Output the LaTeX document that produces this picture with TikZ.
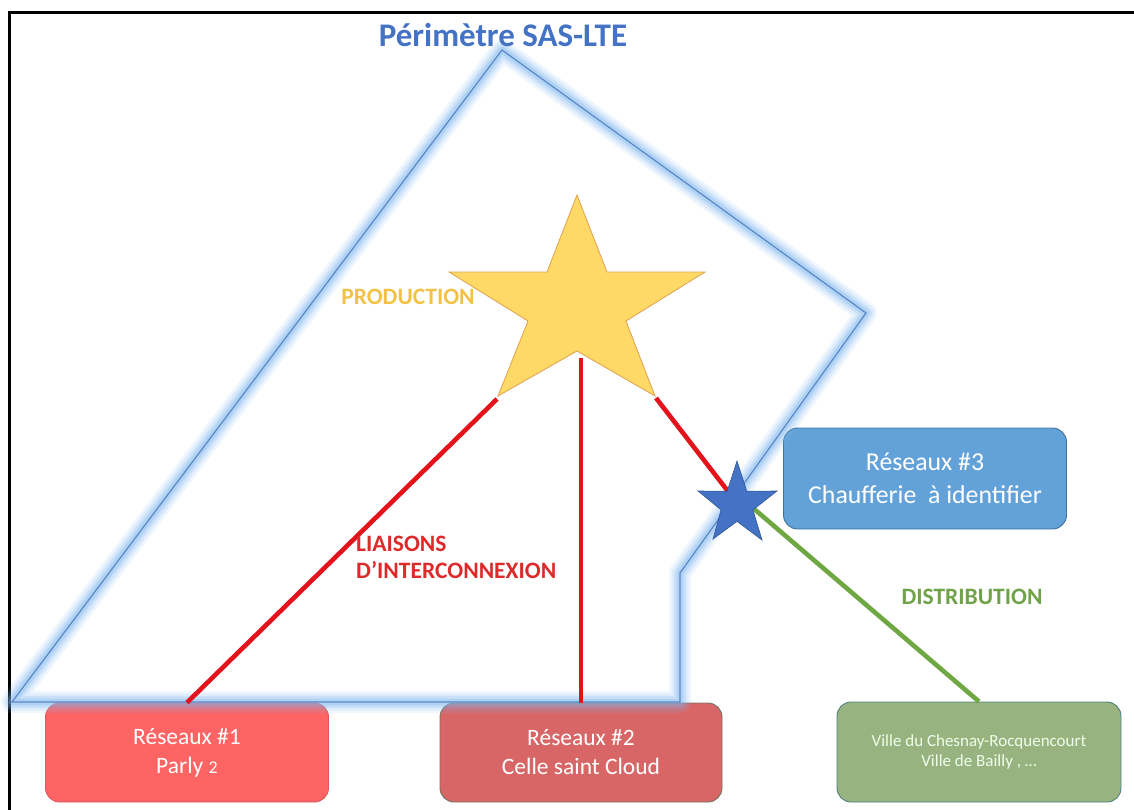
\documentclass[tikz,border=0pt]{standalone}
\usepackage{fontspec}
\setmainfont{Carlito}
\definecolor{titleblue}{HTML}{4472C4}
\definecolor{glowc}{HTML}{7DB5EE}
\definecolor{perimc}{HTML}{5A87C6}
\definecolor{prodc}{HTML}{F2C246}
\definecolor{liaisc}{HTML}{DD2A2A}
\definecolor{distc}{HTML}{70A24A}
\definecolor{redline}{HTML}{E3121B}
\definecolor{greenline}{HTML}{6FA843}
\definecolor{bonefill}{HTML}{FF6464}
\definecolor{boneedge}{HTML}{E0585E}
\definecolor{btwofill}{HTML}{D96666}
\definecolor{btwoedge}{HTML}{6F7563}
\definecolor{bthreefill}{HTML}{63A2D8}
\definecolor{bthreeedge}{HTML}{41719C}
\definecolor{bgreenfill}{HTML}{98B37F}
\definecolor{bgreenedge}{HTML}{4F8080}
\definecolor{starfill}{HTML}{FFD966}
\definecolor{staredge}{HTML}{E0A050}
\definecolor{bstarfill}{HTML}{4472C4}
\definecolor{bstaredge}{HTML}{2F5597}
\begin{document}
\begin{tikzpicture}[x=1pt,y=-1pt,
  glowline/.style={draw=glowc, line join=round, line cap=round},
  boxstyle/.style={rounded corners=14pt, inner sep=0pt, align=center, text=white, line width=0.9pt},
  link/.style={line width=4.6pt, draw=redline},
  lbl/.style={font=\bfseries\fontsize{23.5}{27}\selectfont, inner sep=0pt}
]
\useasboundingbox (0,0) rectangle (1134,809);
% frame
\coordinate (fb) at (1134,12);
\coordinate (fc) at (9,809);
\draw[line width=3pt, line cap=rect] (fc) -- (9,12) -- (fb);

% boxes
\node[boxstyle, fill=bonefill, draw=boneedge, minimum width=283pt, minimum height=99pt,
  font=\fontsize{23.5}{29}\selectfont] (b1) at (187,752.5) {Réseaux \#1\\Parly {\fontsize{18}{20}\selectfont 2}};
\node[boxstyle, fill=btwofill, draw=btwoedge, minimum width=282pt, minimum height=99pt,
  font=\fontsize{23.5}{29}\selectfont] (b2) at (581,752.5) {Réseaux \#2\\Celle saint Cloud};
\node[boxstyle, fill=bgreenfill, draw=bgreenedge, minimum width=284pt, minimum height=100pt,
  text=white!92!green, font=\fontsize{17}{20}\selectfont] (b4) at (979,752) {Ville du Chesnay-Rocquencourt\\Ville de Bailly , …};
\node[boxstyle, fill=bthreefill, draw=bthreeedge, minimum width=283pt, minimum height=101pt,
  font=\fontsize{25.8}{33}\selectfont] (b3) at (925,478.5) {Réseaux \#3\\Chaufferie\ \ à identifier};

% perimeter
\coordinate (p1) at (502,50);
\coordinate (p2) at (866,313);
\coordinate (p3) at (680,573);
\coordinate (p4) at (680,702);
\coordinate (p5) at (12,702);
\foreach \w/\o in {22/0.12, 17/0.15, 12/0.22, 7/0.32}
  \draw[glowline, line width=\w pt, opacity=\o] (p1) -- (p2) -- (p3) -- (p4) -- (p5) -- cycle;
\draw[draw=perimc, line width=1.2pt, line join=miter] (p1) -- (p2) -- (p3) -- (p4) -- (p5) -- cycle;

% star coordinates
\coordinate (sBL) at (497,399);
\coordinate (sMid) at (581,358);
\coordinate (sBR) at (656,398);
\coordinate (s2c) at (737,503);
\coordinate (g0) at (739,496);

% links
\draw[link] (sBL) -- (b1.north);
\draw[link] (sMid) -- (b2.north);
\draw[link] (sBR) -- (s2c);
\draw[line width=4.6pt, draw=greenline] (g0) -- (b4.north);

% big star
\draw[fill=starfill, draw=staredge, line width=0.8pt, line join=miter]
  (577,195) -- (607,272) -- (705,272) -- (626,321) -- (655,396) -- (577,351)
  -- (498,396) -- (528,321) -- (449,272) -- (547,272) -- cycle;
% small star
\draw[fill=bstarfill, draw=bstaredge, line width=0.6pt, line join=miter]
  (737,461) -- (746.8,491.2) -- (777,491) -- (752.9,509.9) -- (762,540) -- (737,521.4)
  -- (713,539) -- (721.1,509.9) -- (698,491) -- (727.2,491.2) -- cycle;

% labels
\node[font=\bfseries\fontsize{33}{36}\selectfont, text=titleblue, inner sep=0pt, anchor=base] (title) at (503,46) {Périmètre SAS-LTE};
\node[lbl, text=prodc, anchor=base] (prod) at (408,304) {PRODUCTION};
\node[lbl, text=liaisc, align=left, anchor=west] (liais) at (356,557) {LIAISONS\\D’INTERCONNEXION};
\node[lbl, text=distc, anchor=base] (dist) at (972,604) {DISTRIBUTION};
\end{tikzpicture}
\end{document}
